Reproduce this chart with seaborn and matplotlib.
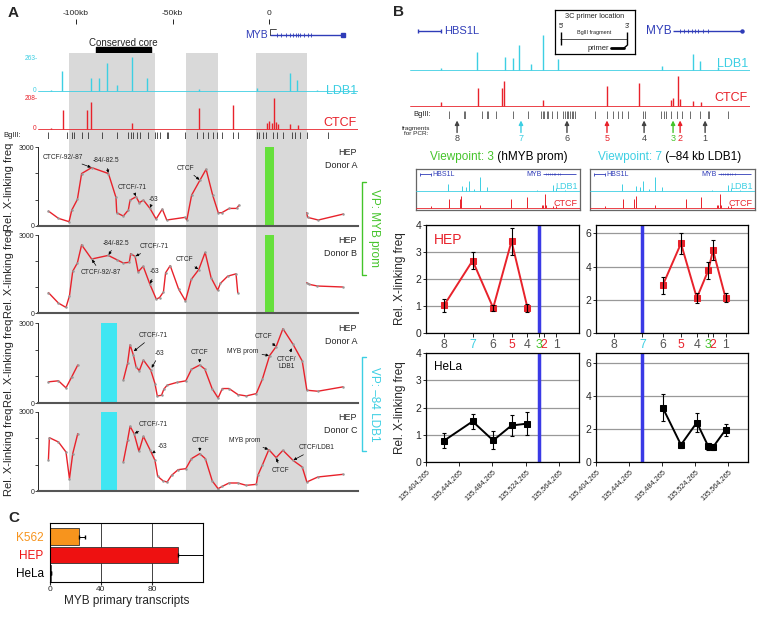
import numpy as np
import pandas as pd
import matplotlib.pyplot as plt
import seaborn as sns
from matplotlib.lines import Line2D
from matplotlib.patches import Rectangle

W, H = 764, 619

RED = '#e8222b'
CYAN = '#3dcfe3'
BLUE = '#2f3cb8'
GREEN = '#44c42a'
GREEN_BAR = '#66e03c'
CYAN_BAR = '#3fe6f2'
GREY_BG = '#d9d9d9'
ORANGE = '#f7941d'
DARK = '#444444'

# ---------------- panel A data (kb from MYB TSS) ----------------
scale_kb = [-100, -50, 0]
scale_labels = ['-100kb', '-50kb', '0']
grey_regions = [(-103.6, -59.0), (-43.0, -26.4), (-6.7, 19.7)]
core_region = (-89.6, -61.0)
myb_exons_a = [4.1, 6.4, 8.6, 10.7, 12.4, 13.8, 15.0, 16.2, 17.9, 20.2, 21.9]
vp_myb_bar = (-2.0, 2.6)
vp_ldb1_bar = (-87.0, -79.0)

ldb1_a_pos = [-113.0, -107.4, -92.4, -87.9, -84.1, -78.6, -71.1, -63.4, -36.1, -6.4, 10.9, 14.7, 25.0]
ldb1_a_val = [8, 153, 97, 97, 218, 45, 263, 97, 13, 26, 137, 84, 8]
ctcf_a_pos = [-113.0, -106.5, -94.1, -92.2, -71.1, -36.3, -18.5, -0.9, 0.2, 1.4, 2.6, 3.5, 4.4, 10.9, 15.2]
ctcf_a_val = [10, 131, 131, 180, 39, 142, 164, 40, 54, 42, 208, 48, 36, 37, 27]
bgl_a = [-114.3, -104.8, -102.2, -101.0, -97.1, -93.6, -86.7, -78.9, -72.9, -71.7, -70.6,
         -68.6, -66.8, -62.5, -59.1, -57.9, -56.5, -53.0, -52.2, -43.5, -37.5, -34.0, -31.4,
         -28.8, -27.1, -24.5, -18.5, -15.9, -6.4, -5.0, -2.9, -1.6, 1.9, 4.0, 7.4, 11.7,
         13.5, 16.1, 19.5, 30.7]

# 4C-style profiles (None = gap)
p1_kb = [-114.3, -109.1, -103.6, -102.2, -99.3, -97.1, -91.9, -83.2, -79.3, -78.9, -75.5, -72.9,
         -72.0, -68.9, -67.2, -65.1, -61.7, -58.5, -55.3, -53.0, -43.5, -42.6, -40.1, -35.8,
         -32.6, -29.2, -26.3, -24.5, -20.6, -16.8, -15.5, None, 19.5, 20.0, 25.5, 38.5]
p1_val = [567, 290, 164, 605, 1008, 1991, 2218, 1991, 1084, 504, 378, 605, 983, 1109, 882, 983,
          668, 265, 643, 227, 328, 227, 1172, 1739, 2155, 1172, 504, 504, 668, 668, 794, None,
          504, 328, 227, 454]
p2_kb = [-114.3, -109.1, -105.2, -103.4, -101.7, -99.3, -97.1, -91.9, -83.3, -78.9, -75.5, -72.4,
         -71.7, -69.4, -67.8, -65.2, -61.7, -58.4, -56.7, -54.7, -53.6, -51.2, -46.8, -43.3,
         -40.3, -36.4, -33.1, -30.0, -26.6, -25.2, -21.4, -17.1, -16.2, None, 19.5, 20.9, 25.0, 38.1]
p2_val = [785, 380, 215, 658, 1608, 1924, 2620, 2076, 2215, 2051, 1924, 1950, 2279, 2177, 1582,
          1798, 1101, 532, 595, 810, 1545, 1823, 911, 468, 1291, 1671, 2329, 1354, 873, 1139,
          1418, 1506, 785, None, 1165, 1101, 1038, 1000]
p3_kb = [-114.3, -109.1, -105.2, -102.2, -99.1, None, -75.5, -73.3, -72.0, -70.3, -68.9, -67.2,
         -65.1, -61.3, -59.1, -57.9, -55.7, -54.5, -52.8, -47.9, -43.1, -40.2, -35.9, -33.3,
         -29.5, -26.4, -24.2, -20.7, -16.1, -11.8, -6.6, -3.5, 0.3, 3.7, 7.2, 12.4, 17.2, 19.6,
         25.3, 38.3]
p3_val = [794, 832, 567, 983, 1424, None, 857, 1487, 2180, 1802, 1361, 1210, 1613, 1235, 731,
          265, 290, 517, 668, 769, 832, 1260, 1424, 1273, 542, 189, 542, 542, 315, 265, 353,
          882, 1777, 2117, 2785, 2205, 1575, 479, 441, 605]
p4_kb = [-114.3, -113.8, -109.1, -105.2, -103.4, -101.7, -99.1, None, -75.5, -73.3, -72.0, -69.9,
         -67.4, -65.1, -61.7, -59.1, -57.7, -54.8, -52.8, -50.5, -47.1, -43.1, -40.2, -35.9,
         -33.0, -29.4, -26.4, -24.2, -20.7, -16.1, -11.8, -6.6, -5.8, -3.5, -0.1, 3.7, 7.2,
         12.4, 17.2, 19.6, 25.3, 38.3]
p4_val = [1190, 2025, 1861, 1481, 468, 1418, 2177, None, 1101, 1924, 2456, 2177, 1506, 2076,
          1570, 1165, 557, 380, 342, 595, 810, 848, 1228, 1418, 1228, 380, 89, 177, 304, 304,
          215, 253, 595, 975, 1570, 1266, 1545, 1165, 911, 342, 532, 633]

p1_ann = [("CTCF/-92/-87", (-106.7, 2620), (-91.9, 2218)),
          ("-84/-82.5", (-84.5, 2470), (-83.2, 1991)),
          ("CTCF/-71", (-71.0, 1480), (-68.9, 1109)),
          ("-63", (-60.0, 1025), (-61.7, 668)),
          ("CTCF", (-43.5, 2200), (-35.8, 1739))]
p2_ann = [("-84/-82.5", (-79.3, 2690), (-83.3, 2215)),
          ("CTCF/-71", (-59.3, 2557), (-69.4, 2177)),
          ("CTCF/-92/-87", (-87.2, 1545), (-91.9, 2076)),
          ("-63", (-59.1, 1582), (-61.7, 1101)),
          ("CTCF", (-43.8, 2051), (-36.4, 1671))]
p3_ann = [("CTCF/-71", (-59.9, 2533), (-70.3, 1928)),
          ("-63", (-56.5, 1865), (-61.0, 1298)),
          ("CTCF", (-36.1, 1903), (-35.9, 1487)),
          ("MYB prom", (-13.8, 1928), (0.3, 1777)),
          ("CTCF", (-2.9, 2495), (3.7, 2117)),
          ("CTCF/\nLDB1", (9.1, 1500), (11.8, 2079))]
p4_ann = [("CTCF/-71", (-59.9, 2532), (-69.9, 2177)),
          ("-63", (-55.3, 1671), (-60.9, 1418)),
          ("CTCF", (-35.7, 1924), (-35.9, 1481)),
          ("MYB prom", (-12.4, 1924), (-0.1, 1570)),
          ("CTCF", (6.0, 785), (3.7, 1266)),
          ("CTCF/LDB1", (24.7, 1646), (12.4, 1165))]
tags = ['HEP\nDonor A', 'HEP\nDonor B', 'HEP\nDonor A', 'HEP\nDonor C']

# ---------------- panel B data ----------------
myb_exons_b = [3.9, 6.1, 8.5, 10.3, 12.2, 14.0, 16.8, 19.5]
ldb1_b_pos = [-128.0, -108.5, -92.8, -88.2, -84.9, -78.6, -71.7, -63.7, -6.3, 11.2, 14.9, 24.9]
ldb1_b_val = [5, 54, 37, 35, 74, 17, 104, 32, 12, 47, 27, 8]
ctcf_b_pos = [-128.0, -107.6, -94.7, -93.2, -71.7, -36.3, -18.6, -1.0, 0.2, 2.9, 4.0, 11.2, 15.3]
ctcf_b_val = [14, 57, 57, 79, 19, 62, 72, 20, 24, 94, 22, 17, 12]
bgl_b = [-123.6, -115.5, -114.9, -105.7, -102.9, -102.0, -97.8, -88.2, -79.9, -73.1, -72.0,
         -71.1, -69.8, -68.9, -67.0, -64.3, -60.6, -59.7, -58.7, -57.8, -56.9, -56.0, -55.1,
         -54.1, -43.1, -36.3, -33.0, -30.2, -28.3, -24.7, -16.4, -15.5, -6.6, -5.0, -3.9,
         -1.3, 2.0, 4.8, 9.4, 14.9, 19.5, 20.1, 30.6]
frag_labels = ['8', '7', '6', '5', '4', '3', '2', '1']
frag_track_kb = [-119.3, -84.0, -58.6, -36.5, -16.0, 0.0, 3.9, 17.7]
frag_colors = [DARK, CYAN, DARK, RED, DARK, GREEN, RED, DARK]
frag_pos = [135425885, 135460365, 135485105, 135507205, 135526425, 135540365, 135546005, 135561265]
x_ticks_b = [135404265, 135444265, 135484265, 135524265, 135564265]

hep_vp3 = [1.02, 2.68, 0.93, 3.40, 0.93]
hep_vp3_err = [0.23, 0.31, 0.11, 0.50, 0.15]
hela_vp3 = [0.78, 1.49, 0.79, 1.34, 1.41]
hela_vp3_err = [0.27, 0.27, 0.33, 0.38, 0.42]
hep_vp7 = [2.87, 5.39, 2.11, 3.78, 4.98, 2.11]
hep_vp7_err = [0.52, 0.65, 0.30, 0.52, 0.60, 0.27]
hela_vp7 = [3.29, 1.04, 2.39, 0.94, 0.90, 1.95]
hela_vp7_err = [0.82, 0.20, 0.60, 0.20, 0.20, 0.35]

# ---------------- panel C data ----------------
c_lines = ['K562', 'HEP', 'HeLa']
c_values = [22.6, 100.0, 0.6]
c_err = [4.7, 22.0, 0.5]
c_colors = [ORANGE, '#ee1111', 'white']
c_label_colors = [ORANGE, '#ee1111', 'black']

sns.set_style('white')
plt.rcParams['font.family'] = ['Liberation Sans', 'DejaVu Sans']

fig = plt.figure(figsize=(W / 100, H / 100), dpi=100)


def box(l, t, r, b):
    return [l / W, 1 - b / H, (r - l) / W, (b - t) / H]


def ftext(x, y, s, **kw):
    return fig.text(x / W, 1 - y / H, s, **kw)


def fline(xs, ys, **kw):
    fig.add_artist(Line2D([x / W for x in xs], [1 - y / H for y in ys], **kw))


def draw_track(ax, pos, vals, color, xlim, ymax, lw=1.0):
    ax.set_xlim(xlim)
    ax.set_ylim(-ymax * 0.03, ymax)
    ax.axhline(0, color=color, lw=0.6)
    ax.vlines(pos, 0, vals, color=color, lw=lw)
    ax.axis('off')


def profile_frame(kb, val):
    rows, seg = [], 0
    for k, v in zip(kb, val):
        if k is None:
            seg += 1
            continue
        rows.append((k, v, seg))
    return pd.DataFrame(rows, columns=['kb', 'freq', 'seg'])


# ================= PANEL A =================
KB_LIM = (-119.7, 46.1)
ftext(8, 13, 'A', fontsize=11, weight='bold', va='center')

bg = fig.add_axes(box(38, 53, 358, 491))
bg.set_xlim(KB_LIM)
for a, b in grey_regions:
    bg.axvspan(a, b, color=GREY_BG, lw=0)
bg.axis('off')

hd = fig.add_axes(box(38, 5, 358, 53))
hd.set_xlim(KB_LIM)
hd.set_ylim(53, 5)
hd.axis('off')
for kb, lab in zip(scale_kb, scale_labels):
    hd.text(kb, 13, lab, ha='center', va='center', fontsize=6)
hd.vlines(scale_kb, 19, 24, color='k', lw=0.6)
hd.text(-0.8, 35.5, 'MYB', color=BLUE, ha='right', va='center', fontsize=7.5)
hd.hlines(35, 0.5, 38.5, color=BLUE, lw=1)
hd.vlines(myb_exons_a, 33, 37, color=BLUE, lw=0.6)
hd.plot([38.5], [35], marker='s', ms=2.5, color=BLUE)
hd.plot([0.5, 0.5, 3.5], [35, 28.5, 28.5], color='k', lw=0.5)
hd.add_patch(Rectangle((core_region[0], 47), core_region[1] - core_region[0], 5.8, color='k'))
hd.text(np.mean(core_region), 42.5, 'Conserved core', ha='center', va='center', fontsize=7)

la = fig.add_axes(box(38, 57, 358, 92))
draw_track(la, ldb1_a_pos, ldb1_a_val, CYAN, KB_LIM, 263)
ca = fig.add_axes(box(38, 98, 358, 130))
draw_track(ca, ctcf_a_pos, ctcf_a_val, RED, KB_LIM, 208)
ftext(38, 59, '263-', color=CYAN, fontsize=4.8, ha='right', va='center')
ftext(36, 90, '0', color=CYAN, fontsize=4.8, ha='right', va='center')
ftext(38, 99, '208-', color=RED, fontsize=4.8, ha='right', va='center')
ftext(36, 128, '0', color=RED, fontsize=4.8, ha='right', va='center')
ftext(357, 91, 'LDB1', color=CYAN, fontsize=9, ha='right', va='center')
ftext(357, 123, 'CTCF', color=RED, fontsize=9, ha='right', va='center')

ba = fig.add_axes(box(38, 132, 358, 139))
ba.set_xlim(KB_LIM)
ba.set_ylim(0, 1)
ba.vlines(bgl_a, 0, 1, color='#333333', lw=0.6)
ba.axis('off')
ftext(3, 135.5, 'BglII:', fontsize=5.5, va='center')

profiles = [(p1_kb, p1_val, p1_ann, 147, 226, 'g'),
            (p2_kb, p2_val, p2_ann, 235, 313, 'g'),
            (p3_kb, p3_val, p3_ann, 323, 403, 'c'),
            (p4_kb, p4_val, p4_ann, 412, 491, 'c')]
for i, (kb, val, ann, top, bot, bar) in enumerate(profiles):
    ax = fig.add_axes(box(38, top, 358, bot))
    ax.set_facecolor('none')
    if bar == 'g':
        ax.axvspan(*vp_myb_bar, color=GREEN_BAR, lw=0)
    else:
        ax.axvspan(*vp_ldb1_bar, color=CYAN_BAR, lw=0)
    df = profile_frame(kb, val)
    sns.lineplot(data=df, x='kb', y='freq', units='seg', estimator=None, sort=False,
                 color=RED, lw=1.0, marker='o', markersize=1.8, markerfacecolor='#999999',
                 markeredgecolor='none', ax=ax)
    ax.set_xlim(KB_LIM)
    ax.set_ylim(0, 3000)
    ax.set_xticks([])
    ax.set_yticks([0, 1000, 2000, 3000])
    ax.set_yticklabels(['0', '', '', '3000'], fontsize=5)
    ax.tick_params(axis='y', left=True, length=2, width=0.6, pad=0.5)
    sns.despine(ax=ax)
    ax.spines['left'].set_linewidth(0.7)
    ax.spines['bottom'].set_color('#555555')
    ax.spines['bottom'].set_linewidth(1.5)
    ax.set_xlabel('')
    ax.set_ylabel('Rel. X-linking freq', fontsize=8)
    ax.yaxis.set_label_coords(-0.075, 0.5)
    ax.text(0.997, 0.99, tags[i], transform=ax.transAxes, ha='right', va='top',
            fontsize=6.5, linespacing=1.6)
    for text, xyt, xy in ann:
        ax.annotate(text, xy=xy, xytext=xyt, ha='center', va='center', fontsize=4.8,
                    linespacing=1.1,
                    arrowprops=dict(arrowstyle='-|>', color='k', lw=0.5, mutation_scale=4,
                                    shrinkA=0.5, shrinkB=0.5))

fline([366, 362, 362, 366], [182, 182, 275, 275], color=GREEN, lw=1)
ftext(374, 228, 'VP: MYB prom', color=GREEN, fontsize=8.5, rotation=270,
      ha='center', va='center')
fline([366, 362, 362, 366], [357, 357, 451, 451], color=CYAN, lw=1)
ftext(374, 404, 'VP: \u201384 LDB1', color=CYAN, fontsize=8.5, rotation=270,
      ha='center', va='center')

# ================= PANEL B =================
B_LIM = (-145.3, 42.5)
ftext(393, 12, 'B', fontsize=11, weight='bold', va='center')

bh = fig.add_axes(box(410, 20, 750, 42))
bh.set_xlim(B_LIM)
bh.set_ylim(42, 20)
bh.axis('off')
bh.hlines(31, -140.9, -128.2, color=BLUE, lw=1)
bh.vlines([-140.9, -128.2], 29, 33, color=BLUE, lw=1)
bh.text(-126.3, 31, 'HBS1L', color=BLUE, ha='left', va='center', fontsize=8)
bh.text(-0.8, 31, 'MYB', color=BLUE, ha='right', va='center', fontsize=8.5)
bh.hlines(31, 0, 38.1, color=BLUE, lw=1)
bh.vlines(myb_exons_b, 29, 33, color=BLUE, lw=0.6)
bh.plot([38.1], [31], marker='o', ms=2.2, color=BLUE)

lb = fig.add_axes(box(410, 33, 750, 71))
draw_track(lb, ldb1_b_pos, ldb1_b_val, CYAN, B_LIM, 110)
cb = fig.add_axes(box(410, 74, 750, 107))
draw_track(cb, ctcf_b_pos, ctcf_b_val, RED, B_LIM, 100)
ftext(748, 64, 'LDB1', color=CYAN, fontsize=9, ha='right', va='center')
ftext(748, 98, 'CTCF', color=RED, fontsize=9, ha='right', va='center')

pb = fig.add_axes(box(555, 10, 635, 54))
pb.set_xlim(0, 80)
pb.set_ylim(44, 0)
pb.set_facecolor('white')
pb.set_xticks([])
pb.set_yticks([])
for s in pb.spines.values():
    s.set_color('k')
    s.set_linewidth(0.9)
pb.text(40, 7, '3C primer location', ha='center', va='center', fontsize=5.3)
pb.text(6, 16, "5\u2032", ha='center', va='center', fontsize=5)
pb.text(72, 16, "3\u2032", ha='center', va='center', fontsize=5)
pb.text(39, 22.5, 'BglII fragment', ha='center', va='center', fontsize=4)
pb.hlines(28.5, 5, 72, color='#555555', lw=0.7)
pb.vlines([6, 72], 22, 35, color='k', lw=1)
pb.text(54, 38, 'primer', ha='right', va='center', fontsize=5.5)
pb.plot([56, 69], [38, 38], color='k', lw=2)
pb.plot([69, 72], [38, 35.5], color='k', lw=1)

bb = fig.add_axes(box(410, 111, 750, 119))
bb.set_xlim(B_LIM)
bb.set_ylim(0, 1)
bb.vlines(bgl_b, 0, 1, color='#555555', lw=0.6)
bb.axis('off')
ftext(431, 115, 'BglII:', fontsize=5.5, ha='right', va='center')
ftext(430, 131, 'fragments\nfor PCR:', fontsize=4.6, ha='right', va='center',
      multialignment='center', linespacing=1.2)

fa = fig.add_axes(box(410, 118, 750, 143))
fa.set_xlim(B_LIM)
fa.set_ylim(143, 118)
fa.axis('off')
for kb, lab, col in zip(frag_track_kb, frag_labels, frag_colors):
    fa.annotate('', xy=(kb, 120.5), xytext=(kb, 132.5),
                arrowprops=dict(arrowstyle='-|>', color=col, lw=1.0, mutation_scale=6,
                                shrinkA=0, shrinkB=0))
    fa.text(kb, 138.5, lab, color=col, ha='center', va='center', fontsize=6.5)

# viewpoint titles: coloured part followed by black part
fig.canvas.draw()
for x0, num, col, rest in [(430, '3', GREEN, ' (hMYB prom)'),
                           (598, '7', CYAN, ' (\u201384 kb LDB1)')]:
    t1 = ftext(x0, 157, 'Viewpoint: ' + num, color=col, fontsize=8.5, ha='left', va='center')
    bbox = t1.get_window_extent(renderer=fig.canvas.get_renderer())
    ftext(bbox.x1, 157, rest, color='black', fontsize=8.5, ha='left', va='center')

# mini boxes
for l, r in [(416, 580), (590, 755)]:
    mb = fig.add_axes(box(l, 169, r, 210))
    mb.set_xlim(B_LIM)
    mb.set_ylim(210, 169)
    mb.set_xticks([])
    mb.set_yticks([])
    for s in mb.spines.values():
        s.set_color('#666666')
        s.set_linewidth(0.9)
    mb.hlines(174, -140.9, -128.2, color=BLUE, lw=0.6)
    mb.vlines([-140.9, -128.2], 172.5, 175.5, color=BLUE, lw=0.6)
    mb.text(-126.5, 174, 'HBS1L', color=BLUE, fontsize=5, ha='left', va='center')
    mb.text(-0.8, 174, 'MYB', color=BLUE, fontsize=5, ha='right', va='center')
    mb.hlines(174, 0, 38.1, color=BLUE, lw=0.6)
    mb.vlines(myb_exons_b, 173, 175, color=BLUE, lw=0.4)
    il = mb.inset_axes([0, 0.446, 1, 0.37])
    draw_track(il, ldb1_b_pos, ldb1_b_val, CYAN, B_LIM, 110, lw=0.7)
    ic = mb.inset_axes([0, 0.03, 1, 0.39])
    draw_track(ic, ctcf_b_pos, ctcf_b_val, RED, B_LIM, 100, lw=0.7)
    mb.text(0.985, 0.58, 'LDB1', transform=mb.transAxes, color=CYAN, fontsize=6.5,
            ha='right', va='center')
    mb.text(0.985, 0.17, 'CTCF', transform=mb.transAxes, color=RED, fontsize=6.5,
            ha='right', va='center')

B_XLIM = (135404265, 135588409)
plots_b = [((426, 225, 579, 333), frag_pos[:5], hep_vp3, hep_vp3_err, RED, frag_pos[5],
            (0, 4), [0, 1, 2, 3, 4], 'HEP', True, False),
           ((596, 225, 748, 333), frag_pos[2:], hep_vp7, hep_vp7_err, RED, frag_pos[1],
            (0, 6.5), [0, 2, 4, 6], None, False, False),
           ((426, 353, 579, 462), frag_pos[:5], hela_vp3, hela_vp3_err, 'black', frag_pos[5],
            (0, 4), [0, 1, 2, 3, 4], 'HeLa', True, True),
           ((596, 353, 748, 462), frag_pos[2:], hela_vp7, hela_vp7_err, 'black', frag_pos[1],
            (0, 6.6), [0, 2, 4, 6], None, False, True)]
for rect, xs, ys, es, col, vp, ylim, yt, lab, ylab, bottom in plots_b:
    ax = fig.add_axes(box(*rect))
    ax.set_xlim(B_XLIM)
    ax.set_ylim(ylim)
    ax.set_yticks(yt)
    ax.yaxis.grid(True, color='#999999', lw=0.9)
    ax.set_axisbelow(True)
    ax.axvline(vp, color='#3a3ae6', lw=2.5, zorder=2)
    sns.lineplot(x=xs, y=ys, color=col, lw=1.4, marker='s', markersize=4,
                 markeredgecolor=col, ax=ax, zorder=3)
    ax.errorbar(xs, ys, yerr=es, fmt='none', ecolor='black', elinewidth=0.8, capsize=1.5,
                capthick=0.8, zorder=4)
    for s in ax.spines.values():
        s.set_color('black')
        s.set_linewidth(0.9)
    ax.tick_params(axis='y', left=True, length=2.5, width=0.7, labelsize=7.5, pad=1)
    ax.tick_params(axis='x', bottom=True, length=3, width=0.7, pad=1)
    if bottom:
        ax.set_xticks(x_ticks_b)
        ax.set_xticklabels([f'{v:,}' for v in x_ticks_b], rotation=45, ha='right',
                           rotation_mode='anchor', fontsize=5.3)
    else:
        ax.set_xticks(frag_pos)
        ax.set_xticklabels(frag_labels, fontsize=8.8)
        for t, c in zip(ax.get_xticklabels(), frag_colors):
            t.set_color(c if c != DARK else '#555555')
    if lab:
        ax.text(0.05, 0.93, lab, transform=ax.transAxes, ha='left', va='top',
                color=RED if lab == 'HEP' else 'black', fontsize=10 if lab == 'HEP' else 8.5)
    if ylab:
        ax.set_ylabel('Rel. X-linking freq', fontsize=8.5)
        ax.yaxis.set_label_coords(-0.13, 0.5)

# ================= PANEL C =================
ftext(8, 518, 'C', fontsize=11, weight='bold', va='center')
axc = fig.add_axes(box(50, 523, 203, 582))
sns.barplot(x=c_values, y=c_lines, hue=c_lines, palette=c_colors, orient='h', width=0.9,
            saturation=1, edgecolor='#333333', linewidth=0.6, legend=False, ax=axc)
axc.errorbar(c_values, range(len(c_lines)), xerr=[[0] * len(c_err), c_err], fmt='none',
             ecolor='black', elinewidth=0.7, capsize=1.5)
axc.set_xlim(0, 120)
axc.set_ylim(2.5, -0.75)
axc.set_xticks([0, 40, 80])
axc.xaxis.grid(True, color='#222222', lw=0.6)
axc.set_axisbelow(True)
for s in axc.spines.values():
    s.set_color('black')
    s.set_linewidth(0.8)
axc.tick_params(axis='x', bottom=True, length=2, labelsize=6, pad=1)
axc.tick_params(axis='y', left=False, labelsize=8.5, pad=1)
for t, c in zip(axc.get_yticklabels(), c_label_colors):
    t.set_color(c)
axc.set_xlabel('MYB primary transcripts', fontsize=8.5, labelpad=1)
axc.set_ylabel('')

fig.savefig('out.png', dpi=100)
